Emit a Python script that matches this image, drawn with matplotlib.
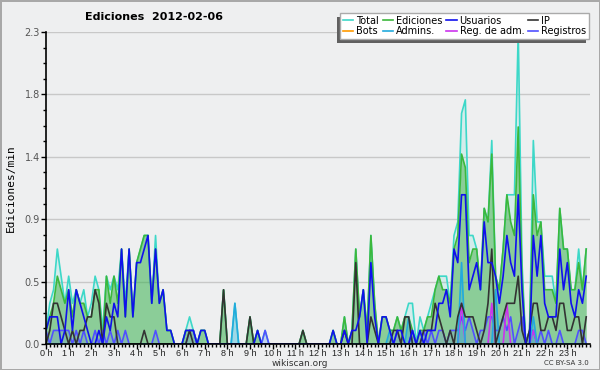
import numpy as np
import matplotlib.pyplot as plt
from matplotlib.ticker import MultipleLocator
from matplotlib.patches import Rectangle

plt.rcParams["font.family"] = ["DejaVu Sans"]

# ediciones por cada 10 minutos (6 valores por hora), se pasan a ediciones/min
total = [1, 3, 4, 7, 5, 3,  5, 3, 4, 3, 4, 2,  3, 5, 4, 1, 5, 4,  5, 4, 7, 3, 7, 2,
         6, 7, 8, 8, 3, 8,  3, 4, 1, 1, 0, 0,  0, 1, 2, 1, 0, 1,  1, 0, 0, 0, 0, 4,
         0, 0, 3, 0, 0, 0,  2, 0, 1, 0, 1, 0,  0, 0, 0, 0, 0, 0,  0, 0, 1, 0, 0, 0,
         0, 0, 0, 0, 1, 0,  0, 2, 0, 1, 7, 2,  4, 1, 8, 3, 0, 2,  2, 1, 1, 2, 1, 2,
         3, 3, 0, 2, 1, 2,  3, 4, 5, 5, 5, 3,  8, 9, 17, 18, 8, 8,  7, 4, 10, 9, 15, 5,
         4, 7, 11, 11, 11, 23,  6, 0, 1, 15, 9, 9,  5, 5, 5, 3, 10, 7,  7, 4, 4, 7, 4, 7]
ediciones = [1, 2, 3, 5, 4, 3,  4, 2, 4, 3, 3, 2,  2, 4, 4, 0, 5, 3,  5, 3, 7, 2, 7, 2,
             6, 7, 8, 8, 3, 7,  3, 4, 1, 1, 0, 0,  0, 1, 1, 1, 0, 1,  1, 0, 0, 0, 0, 4,
             0, 0, 0, 0, 0, 0,  2, 0, 1, 0, 0, 0,  0, 0, 0, 0, 0, 0,  0, 0, 1, 0, 0, 0,
             0, 0, 0, 0, 1, 0,  0, 2, 0, 1, 7, 2,  4, 1, 8, 3, 0, 2,  2, 1, 1, 2, 1, 2,
             2, 1, 0, 1, 1, 2,  2, 4, 5, 4, 4, 3,  7, 8, 14, 13, 6, 7,  7, 4, 10, 9, 14, 5,
             4, 7, 11, 9, 8, 16,  5, 0, 1, 11, 8, 9,  4, 4, 4, 3, 10, 7,  7, 4, 4, 6, 4, 7]
usuarios = [1, 2, 2, 2, 0, 1,  4, 1, 4, 3, 2, 1,  0, 0, 1, 0, 2, 1,  3, 2, 7, 2, 7, 2,
            6, 6, 7, 8, 3, 7,  3, 4, 1, 1, 0, 0,  0, 1, 1, 1, 0, 1,  1, 0, 0, 0, 0, 0,
            0, 0, 0, 0, 0, 0,  0, 0, 1, 0, 0, 0,  0, 0, 0, 0, 0, 0,  0, 0, 0, 0, 0, 0,
            0, 0, 0, 0, 1, 0,  0, 1, 0, 1, 1, 2,  4, 0, 6, 2, 0, 2,  2, 1, 0, 1, 1, 0,
            0, 1, 0, 1, 0, 1,  1, 1, 3, 3, 4, 2,  7, 6, 11, 11, 4, 5,  6, 4, 9, 6, 6, 5,
            3, 5, 8, 6, 5, 11,  4, 0, 0, 8, 5, 8,  3, 2, 2, 2, 7, 4,  6, 3, 2, 4, 3, 5]
ip = [0, 1, 3, 3, 2, 1,  0, 1, 0, 1, 1, 2,  2, 4, 3, 0, 3, 2,  2, 0, 0, 0, 0, 0,
      0, 0, 1, 0, 0, 0,  0, 0, 0, 0, 0, 0,  0, 0, 1, 0, 0, 0,  0, 0, 0, 0, 0, 4,
      0, 0, 0, 0, 0, 0,  2, 0, 0, 0, 0, 0,  0, 0, 0, 0, 0, 0,  0, 0, 1, 0, 0, 0,
      0, 0, 0, 0, 0, 0,  0, 1, 0, 0, 6, 0,  0, 0, 2, 1, 0, 0,  0, 0, 1, 1, 0, 2,
      2, 0, 0, 0, 1, 1,  1, 3, 2, 1, 0, 1,  0, 2, 3, 2, 2, 2,  1, 0, 1, 3, 7, 0,
      1, 2, 3, 3, 3, 5,  1, 0, 1, 3, 3, 1,  1, 2, 2, 1, 3, 3,  1, 1, 2, 2, 0, 2]
registros = [1, 0, 1, 1, 1, 1,  1, 0, 1, 0, 1, 0,  0, 1, 0, 1, 0, 1,  0, 1, 0, 1, 0, 0,
             0, 0, 0, 0, 0, 1,  0, 0, 0, 0, 0, 0,  0, 0, 1, 1, 0, 0,  0, 0, 0, 0, 0, 0,
             0, 0, 0, 0, 0, 0,  0, 0, 0, 0, 1, 0,  0, 0, 0, 0, 0, 0,  0, 0, 0, 0, 0, 0,
             0, 0, 0, 0, 0, 0,  0, 0, 0, 0, 0, 0,  0, 0, 0, 0, 0, 0,  0, 0, 0, 1, 0, 0,
             0, 1, 0, 0, 1, 0,  1, 0, 1, 1, 0, 1,  1, 1, 2, 1, 2, 1,  0, 1, 1, 2, 2, 1,
             1, 2, 1, 2, 0, 1,  2, 0, 1, 1, 0, 1,  0, 1, 0, 0, 1, 0,  0, 0, 0, 1, 1, 0]
reg_adm = [0] * 110 + [3] + [0] * 7 + [3] + [0] * 3 + [3] + [0] * 6 + [1] + [0] * 14
admins = [0] * 50 + [3] + [0] * 40 + [1] + [0] * 4 + [2] + [0] * 13 + [6] + [0] * 8 + [4] + [0] * 9 + [2] + [0] * 14
bots = [0] * 144

horas = np.arange(144) / 6.0
total = np.array(total) / 10
ediciones = np.array(ediciones) / 10
usuarios = np.array(usuarios) / 10
ip = np.array(ip) / 10
registros = np.array(registros) / 10
reg_adm = np.array(reg_adm) / 10
admins = np.array(admins) / 10
bots = np.array(bots) / 10

fondo = "#eeeff0"
fig = plt.figure(figsize=(6, 3.7), dpi=100, facecolor=fondo, edgecolor="#a8a8a8", linewidth=2)
ax = fig.add_axes([46 / 600, 1 - 344 / 370, 544 / 600, 312 / 370])
ax.set_facecolor(fondo)

# rellenos
ax.fill_between(horas, total, color="#40e0d0", alpha=0.15, lw=0)
ax.fill_between(horas, ediciones, color="#33a833", alpha=0.45, lw=0)
ax.fill_between(horas, registros, color="#5555ff", alpha=0.15, lw=0)
ax.fill_between(horas, admins, color="#22aadd", alpha=0.3, lw=0)

# lineas
l_total, = ax.plot(horas, total, color="#3dd8c8", lw=1.2)
l_edic, = ax.plot(horas, ediciones, color="#3cb83c", lw=1.2)
l_bots, = ax.plot(horas, bots, color="#ff9900", lw=1.2)
l_reg, = ax.plot(horas, registros, color="#5050ff", lw=1.2)
l_regadm, = ax.plot(horas, reg_adm, color="#cc33ee", lw=1.2)
l_adm, = ax.plot(horas, admins, color="#22aadd", lw=1.2)
l_ip, = ax.plot(horas, ip, color="#333333", lw=1.2)
l_usu, = ax.plot(horas, usuarios, color="#1010ee", lw=1.2)

ax.set_xlim(0, 24)
ax.set_ylim(0, 2.3)
yt = np.linspace(0, 2.3, 6)
ax.set_yticks(yt)
ax.set_yticklabels([f"{v:.1f}" for v in yt])
ax.yaxis.set_minor_locator(MultipleLocator(2.3 / 20))
ax.set_xticks(np.arange(24))
ax.set_xticklabels([f"{h} h" for h in range(24)], family="Liberation Sans", fontsize=6.5)
ax.xaxis.set_minor_locator(MultipleLocator(1 / 6))
ax.tick_params(which="major", length=3.5, width=1, pad=0, colors="black")
ax.tick_params(which="minor", length=2.5, width=1)
ax.tick_params(axis="x", labelcolor="#222222")
ax.tick_params(axis="y", labelcolor="#555555", labelsize=7, pad=1)
for v in yt[1:]:
    ax.axhline(v, color="#c8c8c8", lw=1, zorder=0)
for s in ["top", "right"]:
    ax.spines[s].set_visible(False)
ax.spines["left"].set_linewidth(1.2)
ax.spines["bottom"].set_linewidth(1.2)
ax.set_ylabel("Ediciones/min", family="DejaVu Sans Mono", fontsize=8, labelpad=6)

fig.text(0.142, 0.953, "Ediciones  2012-02-06", fontsize=8, fontweight="bold", va="center")
fig.text(0.5, 0.017, "wikiscan.org", fontsize=6.5, ha="center", va="center", color="#333333")
fig.text(0.982, 0.018, "CC BY-SA 3.0", fontsize=5, ha="right", va="center", color="#333333")

# la leyenda se llena por columnas
handles = [l_total, l_bots, l_edic, l_adm, l_usu, l_regadm, l_ip, l_reg]
labels = ["Total", "Bots", "Ediciones", "Admins.", "Usuarios", "Reg. de adm.", "IP", "Registros"]
leg = fig.legend(handles, labels, ncol=4, loc="upper right", bbox_to_anchor=(0.982, 0.965),
                 fontsize=7, frameon=True, fancybox=False, shadow=False,
                 handlelength=1.1, handletextpad=0.3, columnspacing=0.35, labelspacing=0.05,
                 borderpad=0.3, borderaxespad=0)
leg.get_frame().set_edgecolor("#aaaaaa")
leg.get_frame().set_facecolor("white")
leg.get_frame().set_alpha(1)
leg.set_zorder(6)

# sombra de la leyenda, desplazada abajo a la izquierda
fig.canvas.draw()
bb = leg.get_window_extent()
sombra = Rectangle((bb.x0 - 3, bb.y0 - 4), bb.width, bb.height, transform=None,
                   facecolor="#606060", edgecolor="none", zorder=5)
fig.add_artist(sombra)

plt.savefig("out.png", dpi=100, facecolor=fig.get_facecolor(), edgecolor=fig.get_edgecolor())
